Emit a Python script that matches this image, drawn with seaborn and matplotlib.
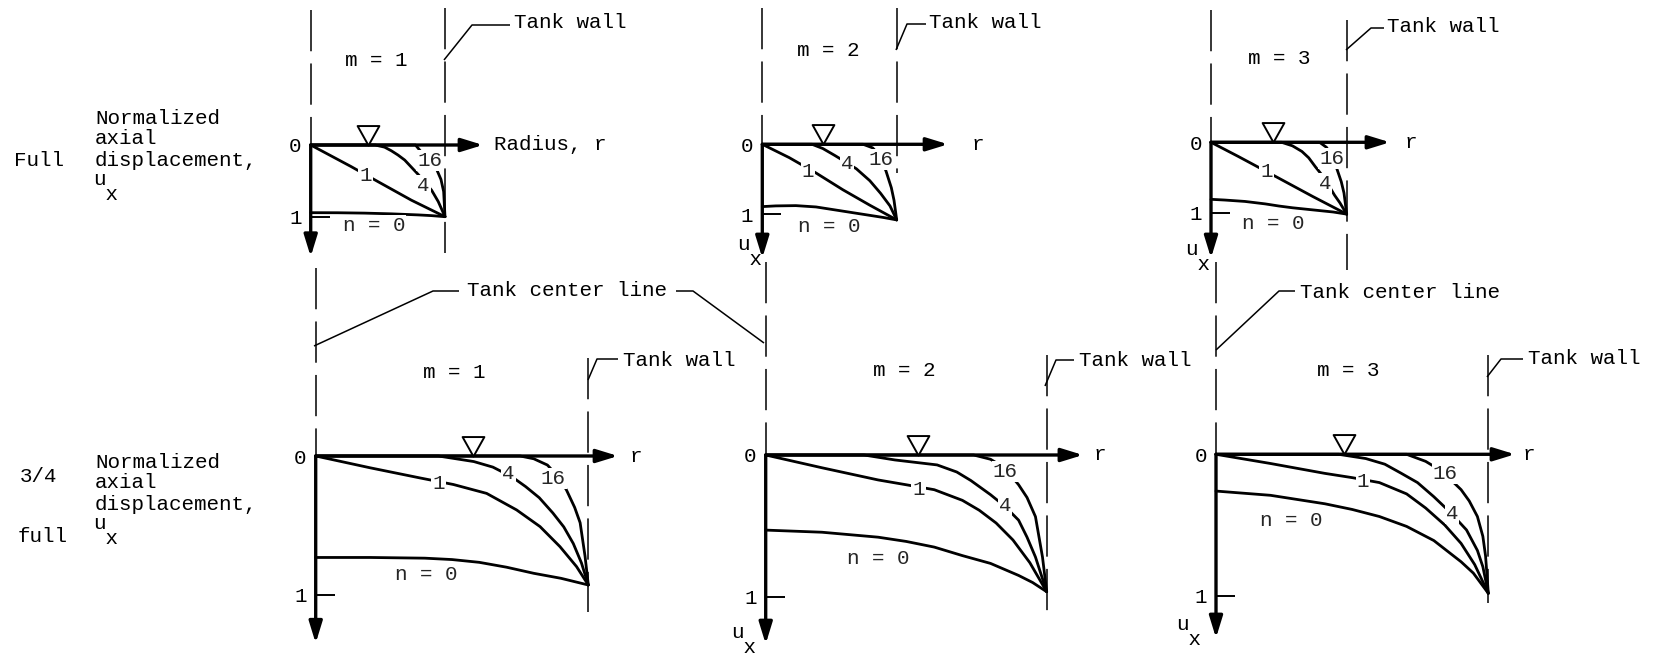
import matplotlib
matplotlib.use("Agg")
import pandas as pd
import matplotlib.pyplot as plt
from matplotlib.path import Path
import seaborn as sns

# ---------------------------------------------------------------------------
# Normalized axial displacement u_x versus normalized radius r
# for circumferential wave numbers n = 0, 1, 4, 16
# ---------------------------------------------------------------------------
wave_numbers = ["0", "1", "4", "16"]

# Full tank, m = 1
full_m1_n0_r = [0, 0.2, 0.4, 0.6, 0.8, 0.9, 1.0]
full_m1_n0_u = [0.944, 0.945, 0.95, 0.96, 0.975, 0.985, 1.0]
full_m1_n1_r = [0, 0.3, 0.5, 0.75, 1.0]
full_m1_n1_u = [0, 0.30, 0.51, 0.77, 1.0]
full_m1_n4_r = [0, 0.48, 0.55, 0.6, 0.65, 0.7, 0.75, 0.8, 0.85, 0.9, 0.95, 1.0]
full_m1_n4_u = [0, 0, 0.03, 0.08, 0.14, 0.21, 0.31, 0.41, 0.52, 0.63, 0.79, 1.0]
full_m1_n16_r = [0, 0.78, 0.82, 0.88, 0.94, 0.97, 0.99, 1.0]
full_m1_n16_u = [0, 0, 0.09, 0.2, 0.35, 0.48, 0.65, 1.0]

# Full tank, m = 2
full_m2_n0_r = [0, 0.1, 0.25, 0.4, 0.5, 0.6, 0.75, 0.9, 1.0]
full_m2_n0_u = [0.89, 0.88, 0.876, 0.895, 0.925, 0.955, 1.0, 1.045, 1.08]
full_m2_n1_r = [0, 0.2, 0.4, 0.6, 0.8, 1.0]
full_m2_n1_u = [0, 0.19, 0.41, 0.65, 0.87, 1.08]
full_m2_n4_r = [0, 0.37, 0.45, 0.54, 0.6, 0.7, 0.8, 0.88, 0.95, 1.0]
full_m2_n4_u = [0, 0, 0.06, 0.16, 0.23, 0.35, 0.52, 0.70, 0.88, 1.08]
full_m2_n16_r = [0, 0.75, 0.82, 0.87, 0.92, 0.96, 0.98, 1.0]
full_m2_n16_u = [0, 0, 0.05, 0.15, 0.38, 0.62, 0.8, 1.08]

# Full tank, m = 3
full_m3_n0_r = [0, 0.1, 0.25, 0.4, 0.5, 0.6, 0.75, 0.9, 1.0]
full_m3_n0_u = [0.81, 0.82, 0.84, 0.875, 0.905, 0.93, 0.96, 0.99, 1.02]
full_m3_n1_r = [0, 0.2, 0.5, 0.75, 1.0]
full_m3_n1_u = [0, 0.2, 0.51, 0.77, 1.02]
full_m3_n4_r = [0, 0.52, 0.6, 0.67, 0.72, 0.77, 0.82, 0.87, 0.91, 0.95, 1.0]
full_m3_n4_u = [0, 0, 0.05, 0.13, 0.22, 0.35, 0.47, 0.62, 0.75, 0.86, 1.02]
full_m3_n16_r = [0, 0.8, 0.85, 0.89, 0.93, 0.96, 0.98, 1.0]
full_m3_n16_u = [0, 0, 0.07, 0.18, 0.39, 0.56, 0.72, 1.02]

# 3/4 full tank, m = 1
tq_m1_n0_r = [0, 0.2, 0.4, 0.5, 0.6, 0.7, 0.8, 0.9, 1.0]
tq_m1_n0_u = [0.73, 0.73, 0.735, 0.745, 0.765, 0.8, 0.844, 0.88, 0.928]
tq_m1_n1_r = [0, 0.2, 0.383, 0.505, 0.627, 0.737, 0.823, 0.896, 0.957, 1.0]
tq_m1_n1_u = [0, 0.085, 0.158, 0.205, 0.269, 0.388, 0.508, 0.652, 0.796, 0.928]
tq_m1_n4_r = [0, 0.45, 0.58, 0.65, 0.72, 0.77, 0.82, 0.87, 0.91, 0.945, 0.975, 1.0]
tq_m1_n4_u = [0, 0, 0.04, 0.08, 0.15, 0.22, 0.3, 0.41, 0.51, 0.63, 0.77, 0.928]
tq_m1_n16_r = [0, 0.75, 0.8, 0.85, 0.89, 0.92, 0.95, 0.97, 0.988, 1.0]
tq_m1_n16_u = [0, 0, 0.02, 0.065, 0.15, 0.245, 0.37, 0.48, 0.72, 0.928]

# 3/4 full tank, m = 2
tq_m2_n0_r = [0, 0.2, 0.4, 0.5, 0.6, 0.7, 0.8, 0.9, 0.95, 1.0]
tq_m2_n0_u = [0.53, 0.545, 0.58, 0.61, 0.65, 0.71, 0.765, 0.85, 0.9, 0.965]
tq_m2_n1_r = [0, 0.2, 0.4, 0.5, 0.6, 0.7, 0.76, 0.82, 0.88, 0.94, 1.0]
tq_m2_n1_u = [0, 0.09, 0.176, 0.21, 0.245, 0.32, 0.39, 0.48, 0.6, 0.76, 0.965]
tq_m2_n4_r = [0, 0.35, 0.46, 0.61, 0.68, 0.73, 0.8, 0.85, 0.9, 0.93, 0.96, 1.0]
tq_m2_n4_u = [0, 0, 0.035, 0.07, 0.12, 0.18, 0.28, 0.36, 0.46, 0.58, 0.72, 0.965]
tq_m2_n16_r = [0, 0.74, 0.8, 0.85, 0.9, 0.93, 0.96, 0.985, 1.0]
tq_m2_n16_u = [0, 0, 0.03, 0.09, 0.21, 0.3, 0.435, 0.72, 0.965]

# 3/4 full tank, m = 3
tq_m3_n0_r = [0, 0.2, 0.4, 0.5, 0.6, 0.7, 0.8, 0.86, 0.9, 0.945, 1.0]
tq_m3_n0_u = [0.26, 0.29, 0.35, 0.39, 0.44, 0.51, 0.61, 0.7, 0.76, 0.84, 0.983]
tq_m3_n1_r = [0, 0.2, 0.4, 0.5, 0.6, 0.7, 0.77, 0.84, 0.9, 0.95, 1.0]
tq_m3_n1_u = [0, 0.065, 0.135, 0.165, 0.2, 0.28, 0.38, 0.5, 0.63, 0.78, 0.983]
tq_m3_n4_r = [0, 0.45, 0.55, 0.62, 0.68, 0.74, 0.8, 0.86, 0.92, 0.96, 0.98, 1.0]
tq_m3_n4_u = [0, 0, 0.03, 0.07, 0.134, 0.2, 0.3, 0.41, 0.535, 0.68, 0.795, 0.983]
tq_m3_n16_r = [0, 0.7, 0.77, 0.83, 0.9, 0.93, 0.96, 0.98, 0.99, 1.0]
tq_m3_n16_u = [0, 0, 0.05, 0.12, 0.25, 0.33, 0.44, 0.58, 0.72, 0.983]

mode_labels = ["m = 1", "m = 2", "m = 3", "m = 1", "m = 2", "m = 3"]

# ---------------------------------------------------------------------------
sns.set_theme(style="white")
plt.rcParams["font.family"] = ["Liberation Mono", "DejaVu Sans Mono"]
FS = 15
W, H = 1657, 661
fig = plt.figure(figsize=(W / 100, H / 100), dpi=100)
fig.patch.set_facecolor("white")

curves = [
    {"0": (full_m1_n0_r, full_m1_n0_u), "1": (full_m1_n1_r, full_m1_n1_u),
     "4": (full_m1_n4_r, full_m1_n4_u), "16": (full_m1_n16_r, full_m1_n16_u)},
    {"0": (full_m2_n0_r, full_m2_n0_u), "1": (full_m2_n1_r, full_m2_n1_u),
     "4": (full_m2_n4_r, full_m2_n4_u), "16": (full_m2_n16_r, full_m2_n16_u)},
    {"0": (full_m3_n0_r, full_m3_n0_u), "1": (full_m3_n1_r, full_m3_n1_u),
     "4": (full_m3_n4_r, full_m3_n4_u), "16": (full_m3_n16_r, full_m3_n16_u)},
    {"0": (tq_m1_n0_r, tq_m1_n0_u), "1": (tq_m1_n1_r, tq_m1_n1_u),
     "4": (tq_m1_n4_r, tq_m1_n4_u), "16": (tq_m1_n16_r, tq_m1_n16_u)},
    {"0": (tq_m2_n0_r, tq_m2_n0_u), "1": (tq_m2_n1_r, tq_m2_n1_u),
     "4": (tq_m2_n4_r, tq_m2_n4_u), "16": (tq_m2_n16_r, tq_m2_n16_u)},
    {"0": (tq_m3_n0_r, tq_m3_n0_u), "1": (tq_m3_n1_r, tq_m3_n1_u),
     "4": (tq_m3_n4_r, tq_m3_n4_u), "16": (tq_m3_n16_r, tq_m3_n16_u)},
]

# panel frames in pixels: r=0 x, r=1 x, u=0 y, u=1 y
frames = [
    (310.7, 445.0, 145.0, 216.7),
    (762.3, 896.7, 144.3, 214.3),
    (1211.0, 1346.7, 142.3, 212.7),
    (315.7, 588.3, 456.0, 595.0),
    (765.7, 1046.7, 455.0, 596.7),
    (1216.0, 1488.3, 454.3, 595.7),
]
# per panel: r-arrow tip, u-arrow tip, free-surface r, center-line top, wall span
extras = [
    (1.283, 1.558, 0.43, -1.88, (-1.91, 1.51)),
    (1.382, 1.624, 0.45, -1.95, (-1.95, 0.41)),
    (1.319, 1.643, 0.455, -1.88, (-1.74, 1.81)),
    (1.109, 1.347, 0.577, -1.35, (-0.705, 1.12)),
    (1.129, 1.334, 0.542, -1.36, (-0.706, 1.115)),
    (1.098, 1.299, 0.47, -1.36, (-0.70, 1.05)),
]
# curve-label placement (r, u) for n = 0, 1, 4, 16
label_pos = [
    {"0": (0.47, 1.125), "1": (0.41, 0.42), "4": (0.84, 0.56), "16": (0.886, 0.21)},
    {"0": (0.5, 1.17), "1": (0.34, 0.39), "4": (0.63, 0.27), "16": (0.88, 0.22)},
    {"0": (0.46, 1.15), "1": (0.41, 0.42), "4": (0.84, 0.59), "16": (0.89, 0.23)},
    {"0": (0.407, 0.85), "1": (0.45, 0.197), "4": (0.707, 0.125), "16": (0.872, 0.16)},
    {"0": (0.4, 0.73), "1": (0.543, 0.247), "4": (0.852, 0.353), "16": (0.852, 0.118)},
    {"0": (0.278, 0.465), "1": (0.54, 0.194), "4": (0.866, 0.417), "16": (0.842, 0.134)},
]

tri_path = Path([(-0.56, 1.0), (0.56, 1.0), (0.0, 0.0), (-0.56, 1.0)],
                [Path.MOVETO, Path.LINETO, Path.LINETO, Path.CLOSEPOLY])
dash = (0, (27, 8))

for i, (x0, x1, y0, y1) in enumerate(frames):
    ax = fig.add_axes([x0 / W, 1 - y1 / H, (x1 - x0) / W, (y1 - y0) / H])
    ax.set_facecolor("none")
    for n in wave_numbers:
        r, u = curves[i][n]
        df = pd.DataFrame({"r": r, "u": u})
        sns.lineplot(data=df, x="r", y="u", ax=ax, color="black", lw=2.0,
                     sort=False, estimator=None, legend=False, clip_on=False)
    ax.set_xlim(0, 1)
    ax.set_ylim(1, 0)
    ax.set_xlabel("")
    ax.set_ylabel("")
    for s in ax.spines.values():
        s.set_visible(False)
    ax.set_xticks([])
    ax.set_yticks([0, 1])
    ax.set_yticklabels(["0", "1"])
    ax.tick_params(axis="y", direction="in", length=14, width=1.4, pad=6.5,
                   labelsize=FS, left=True, colors="black")

    r_tip, u_tip, tri_r, c_top, (w_top, w_bot) = extras[i]
    arrow = dict(arrowstyle="-|>,head_length=0.65,head_width=0.2", mutation_scale=20,
                 lw=2.4, color="black", shrinkA=0, shrinkB=0)
    ax.annotate("", xy=(r_tip, 0), xytext=(0, 0), arrowprops=arrow, annotation_clip=False)
    ax.annotate("", xy=(0, u_tip), xytext=(0, 0), arrowprops=arrow, annotation_clip=False)

    # tank center line above the free surface and tank wall
    ax.plot([0, 0], [c_top, 0], color="black", lw=1.1, ls=dash, clip_on=False)
    ax.plot([1, 1], [w_top, w_bot], color="black", lw=1.1, ls=dash, clip_on=False)

    # free-surface symbol
    ax.plot([tri_r], [0], marker=tri_path, ms=28, mfc="white", mec="black",
            mew=1.4, ls="none", clip_on=False, zorder=6)

    for n in wave_numbers:
        lx, ly = label_pos[i][n]
        txt = "n = 0" if n == "0" else n
        ax.text(lx, ly, txt, ha="center", va="center", fontsize=FS, zorder=5,
                clip_on=False,
                bbox=dict(boxstyle="square,pad=0.05", fc="white", ec="none"))

# ---------------------------------------------------------------------------
# annotation layer in pixel coordinates
ov = fig.add_axes([0, 0, 1, 1])
ov.set_xlim(0, W)
ov.set_ylim(H, 0)
ov.axis("off")
ov.set_facecolor("none")


def put(x, y, s, ha="left", **kw):
    ov.text(x, y, s, fontsize=FS, ha=ha, va="center", color="black", **kw)


def put_ux(x, y_mid):
    # typewriter-style u with subscript x on the line below
    put(x, y_mid, "u\n x", linespacing=0.68)


def lead(pts):
    xs, ys = zip(*pts)
    ov.plot(xs, ys, color="black", lw=1.1, solid_capstyle="butt")


# row descriptions
put(14, 160, "Full")
put(95, 118, "Normalized")
put(95, 139, "axial")
put(95, 160, "displacement,")
put_ux(93, 187)

put(20, 477, "3/4")
put(18, 536, "full")
put(95, 463, "Normalized")
put(95, 483, "axial")
put(95, 504, "displacement,")
put_ux(93, 531)

# mode numbers
for (mx, my), s in zip([(376, 60), (828, 50), (1279, 58), (454, 372), (904, 371), (1348, 371)],
                       mode_labels):
    put(mx, my, s, ha="center")

# axis names
put(494, 145, "Radius, r")
put(972, 144, "r")
put(1405, 142, "r")
put(630, 456, "r")
put(1094, 455, "r")
put(1523, 454, "r")

for ux, umid in [(737, 252), (1185, 257), (731, 640), (1176, 632)]:
    put_ux(ux, umid)

# tank wall call-outs
walls = [
    ([(444, 60), (472, 25), (510, 25)], (514, 23)),
    ([(896, 50), (907, 24), (926, 24)], (929, 23)),
    ([(1346, 50), (1371, 28), (1384, 28)], (1387, 27)),
    ([(588, 380), (597, 359), (618, 359)], (623, 360)),
    ([(1045, 386), (1056, 360), (1074, 360)], (1079, 360)),
    ([(1487, 377), (1501, 359), (1523, 359)], (1528, 359)),
]
for pts, (tx, ty) in walls:
    lead(pts)
    put(tx, ty, "Tank wall")

# tank center line call-outs
put(467, 291, "Tank center line")
lead([(314, 346), (433, 291), (459, 291)])
lead([(676, 291), (693, 291), (764, 343)])
put(1300, 292, "Tank center line")
lead([(1216, 350), (1279, 291), (1295, 291)])

fig.savefig("out.png", dpi=100, facecolor="white")
